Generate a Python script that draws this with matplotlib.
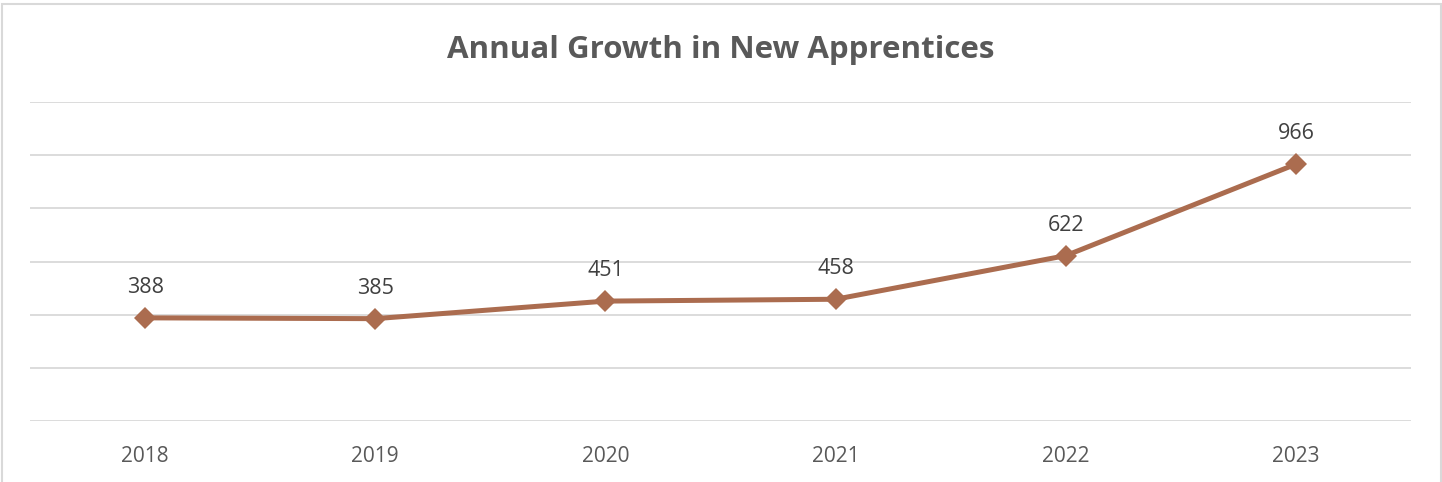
import matplotlib.pyplot as plt
from matplotlib.patches import Rectangle

# data
years = ["2018", "2019", "2020", "2021", "2022", "2023"]
apprentices = [388, 385, 451, 458, 622, 966]

title = "Annual Growth in New Apprentices"
line_color = "#AB6C4F"
grid_color = "#D9D9D9"

plt.rcParams['font.family'] = ['Open Sans', 'DejaVu Sans']

fig = plt.figure(figsize=(14.42, 4.82), dpi=100)
ax = fig.add_axes([30 / 1442, 61 / 482, 1381 / 1442, 319 / 482])

x = list(range(len(years)))
ax.plot(x, apprentices, color=line_color, linewidth=3.6, marker='D',
        markersize=11, markeredgewidth=0, zorder=3, solid_capstyle='round')

for xi, v in zip(x, apprentices):
    ax.annotate(str(v), (xi, v), xytext=(0, 22), textcoords='offset points',
                ha='center', va='center', fontsize=15.5, color='#404040')

ax.set_xlim(-0.5, len(years) - 0.5)
ax.set_ylim(0, 1200)
ax.set_yticks(range(0, 1201, 200))
ax.set_yticklabels([])
ax.set_xticks(x)
ax.set_xticklabels(years, fontsize=15, color='#595959')
ax.tick_params(axis='both', length=0)
ax.tick_params(axis='x', pad=18)
ax.grid(axis='y', color=grid_color, linewidth=1.3)
ax.set_axisbelow(True)
for s in ax.spines.values():
    s.set_visible(False)

fig.text(0.5, 1 - 50 / 482, title, ha='center', va='center', fontsize=22.5,
         fontweight='bold', color='#595959')

# chart frame
fig.patches.append(Rectangle((2 / 1442, -0.05), 1438.5 / 1442, 1.05 - 3.5 / 482,
                             transform=fig.transFigure, fill=False,
                             edgecolor=grid_color, linewidth=1.5))

fig.savefig("out.png", dpi=100)
